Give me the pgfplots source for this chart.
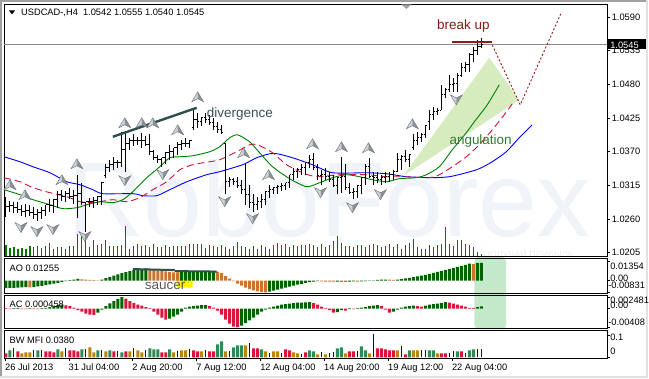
\documentclass[border=0pt]{standalone}
\usepackage{fontspec}
\setmainfont{Liberation Sans}
\usepackage{pgfplots}
\usepackage{pgfplotstable}
\pgfplotsset{compat=1.18}
\pgfplotsset{every axis/.append style={scaled y ticks=false, scaled x ticks=false}}

\definecolor{aogreen}{RGB}{0,100,0}
\definecolor{aoorange}{RGB}{205,115,45}
\definecolor{acred}{RGB}{220,20,60}
\definecolor{mfigreen}{RGB}{46,139,87}
\definecolor{mfibrown}{RGB}{184,134,11}
\definecolor{mfired}{RGB}{220,20,60}
\definecolor{mfiblue}{RGB}{0,0,139}
\definecolor{jaw}{RGB}{0,0,255}
\definecolor{teeth}{RGB}{205,20,60}
\definecolor{lips}{RGB}{0,128,0}
\definecolor{volg}{RGB}{0,118,0}
\definecolor{wm}{RGB}{240,243,247}
\definecolor{wm2}{RGB}{232,236,240}
\definecolor{angfill}{RGB}{214,236,190}
\definecolor{brk}{RGB}{150,25,25}
\definecolor{brktxt}{RGB}{139,26,26}
\definecolor{divc}{RGB}{47,79,79}
\definecolor{divtxt}{RGB}{60,80,90}
\definecolor{angtxt}{RGB}{50,125,50}
\definecolor{saucertxt}{RGB}{90,90,90}
\definecolor{hlgreen}{RGB}{196,232,202}
\definecolor{bidline}{RGB}{135,140,145}
\definecolor{fraclight}{RGB}{205,210,215}
\definecolor{fracdark}{RGB}{140,146,152}
\definecolor{fracd}{RGB}{110,116,122}
\definecolor{bordd}{RGB}{160,160,160}
\definecolor{bordl}{RGB}{225,225,225}

\newcommand{\lbl}{\fontsize{9.3}{10}\selectfont}
\newcommand{\ann}{\fontsize{13.5}{15}\selectfont}

\pgfdeclareplotmark{otick}{\pgfpathmoveto{\pgfqpoint{-1.8pt}{0pt}}\pgfpathlineto{\pgfqpoint{0pt}{0pt}}\pgfusepathqstroke}
\pgfdeclareplotmark{ctick}{\pgfpathmoveto{\pgfqpoint{0pt}{0pt}}\pgfpathlineto{\pgfqpoint{1.8pt}{0pt}}\pgfusepathqstroke}
\pgfdeclareplotmark{fup}{%
  \pgfsetstrokecolor{fracd}\pgfsetlinewidth{0.4pt}%
  \pgfsetfillcolor{fraclight}%
  \pgfpathmoveto{\pgfqpoint{0pt}{5pt}}%
  \pgfpathlineto{\pgfqpoint{0pt}{-2pt}}%
  \pgfpathlineto{\pgfqpoint{-6pt}{-5pt}}%
  \pgfpathclose\pgfusepathqfill
  \pgfsetfillcolor{fracdark}%
  \pgfpathmoveto{\pgfqpoint{0pt}{5pt}}%
  \pgfpathlineto{\pgfqpoint{6pt}{-5pt}}%
  \pgfpathlineto{\pgfqpoint{0pt}{-2pt}}%
  \pgfpathclose\pgfusepathqfill
  \pgfpathmoveto{\pgfqpoint{0pt}{5pt}}%
  \pgfpathlineto{\pgfqpoint{6pt}{-5pt}}%
  \pgfpathlineto{\pgfqpoint{0pt}{-2pt}}%
  \pgfpathlineto{\pgfqpoint{-6pt}{-5pt}}%
  \pgfpathclose\pgfusepathqstroke}
\pgfdeclareplotmark{fdown}{%
  \pgfsetstrokecolor{fracd}\pgfsetlinewidth{0.4pt}%
  \pgfsetfillcolor{fraclight}%
  \pgfpathmoveto{\pgfqpoint{0pt}{-5pt}}%
  \pgfpathlineto{\pgfqpoint{0pt}{2pt}}%
  \pgfpathlineto{\pgfqpoint{-6pt}{5pt}}%
  \pgfpathclose\pgfusepathqfill
  \pgfsetfillcolor{fracdark}%
  \pgfpathmoveto{\pgfqpoint{0pt}{-5pt}}%
  \pgfpathlineto{\pgfqpoint{6pt}{5pt}}%
  \pgfpathlineto{\pgfqpoint{0pt}{2pt}}%
  \pgfpathclose\pgfusepathqfill
  \pgfpathmoveto{\pgfqpoint{0pt}{-5pt}}%
  \pgfpathlineto{\pgfqpoint{6pt}{5pt}}%
  \pgfpathlineto{\pgfqpoint{0pt}{2pt}}%
  \pgfpathlineto{\pgfqpoint{-6pt}{5pt}}%
  \pgfpathclose\pgfusepathqstroke}

\pgfplotstableread{
i o h l c
0 1.0275 1.0296 1.0264 1.0280
1 1.0280 1.0290 1.0272 1.0282
2 1.0282 1.0287 1.0269 1.0278
3 1.0278 1.0287 1.0270 1.0275
4 1.0275 1.0283 1.0265 1.0272
5 1.0272 1.0285 1.0264 1.0274
6 1.0274 1.0282 1.0265 1.0270
7 1.0270 1.0280 1.0260 1.0267
8 1.0267 1.0277 1.0256 1.0270
9 1.0270 1.0280 1.0260 1.0274
10 1.0274 1.0282 1.0265 1.0283
11 1.0283 1.0293 1.0272 1.0282
12 1.0282 1.0292 1.0270 1.0292
13 1.0292 1.0305 1.0278 1.0300
14 1.0300 1.0308 1.0290 1.0296
15 1.0296 1.0305 1.0287 1.0301
16 1.0301 1.0311 1.0292 1.0296
17 1.0296 1.0308 1.0285 1.0298
18 1.0298 1.0332 1.0262 1.0301
19 1.0301 1.0319 1.0283 1.0287
20 1.0287 1.0288 1.0239 1.0288
21 1.0288 1.0295 1.0280 1.0288
22 1.0288 1.0296 1.0278 1.0290
23 1.0290 1.0298 1.0282 1.0297
24 1.0297 1.0321 1.0283 1.0319
25 1.0331 1.0349 1.0327 1.0344
26 1.0344 1.0357 1.0337 1.0349
27 1.0349 1.0362 1.0340 1.0352
28 1.0352 1.0357 1.0344 1.0353
29 1.0353 1.0402 1.0345 1.0373
30 1.0373 1.0401 1.0336 1.0383
31 1.0383 1.0393 1.0373 1.0389
32 1.0389 1.0398 1.0380 1.0388
33 1.0388 1.0394 1.0381 1.0389
34 1.0389 1.0401 1.0376 1.0388
35 1.0388 1.0396 1.0380 1.0381
36 1.0381 1.0398 1.0365 1.0370
37 1.0370 1.0373 1.0357 1.0360
38 1.0360 1.0365 1.0352 1.0357
39 1.0357 1.0360 1.0345 1.0360
40 1.0360 1.0370 1.0349 1.0368
41 1.0368 1.0381 1.0357 1.0370
42 1.0370 1.0376 1.0360 1.0376
43 1.0376 1.0386 1.0365 1.0381
44 1.0381 1.0389 1.0373 1.0384
45 1.0384 1.0393 1.0378 1.0383
46 1.0383 1.0389 1.0376 1.0389
47 1.0409 1.0442 1.0406 1.0422
48 1.0422 1.0433 1.0409 1.0419
49 1.0419 1.0427 1.0412 1.0425
50 1.0425 1.0433 1.0417 1.0422
51 1.0422 1.0430 1.0414 1.0417
52 1.0417 1.0425 1.0406 1.0411
53 1.0411 1.0419 1.0401 1.0406
54 1.0406 1.0414 1.0398 1.0401
55 1.0384 1.0384 1.0300 1.0321
56 1.0321 1.0329 1.0313 1.0324
57 1.0324 1.0327 1.0316 1.0321
58 1.0321 1.0329 1.0311 1.0314
59 1.0314 1.0324 1.0300 1.0308
60 1.0308 1.0349 1.0283 1.0300
61 1.0300 1.0316 1.0278 1.0287
62 1.0287 1.0300 1.0272 1.0283
63 1.0283 1.0296 1.0275 1.0288
64 1.0288 1.0300 1.0278 1.0292
65 1.0292 1.0305 1.0283 1.0305
66 1.0305 1.0316 1.0295 1.0308
67 1.0308 1.0313 1.0300 1.0311
68 1.0311 1.0316 1.0301 1.0313
69 1.0313 1.0319 1.0305 1.0314
70 1.0314 1.0319 1.0308 1.0319
71 1.0319 1.0332 1.0311 1.0332
72 1.0332 1.0344 1.0324 1.0337
73 1.0337 1.0344 1.0327 1.0340
74 1.0340 1.0349 1.0332 1.0344
75 1.0344 1.0352 1.0332 1.0352
76 1.0352 1.0365 1.0344 1.0357
77 1.0357 1.0368 1.0340 1.0344
78 1.0344 1.0349 1.0324 1.0331
79 1.0331 1.0340 1.0316 1.0332
80 1.0332 1.0344 1.0324 1.0329
81 1.0329 1.0337 1.0321 1.0324
82 1.0324 1.0332 1.0313 1.0314
83 1.0314 1.0327 1.0300 1.0327
84 1.0327 1.0362 1.0303 1.0330
85 1.0330 1.0349 1.0308 1.0311
86 1.0311 1.0319 1.0300 1.0303
87 1.0303 1.0311 1.0292 1.0305
88 1.0305 1.0314 1.0295 1.0314
89 1.0314 1.0327 1.0300 1.0327
90 1.0327 1.0349 1.0316 1.0345
91 1.0345 1.0360 1.0327 1.0329
92 1.0329 1.0337 1.0316 1.0327
93 1.0327 1.0336 1.0318 1.0324
94 1.0324 1.0332 1.0316 1.0327
95 1.0327 1.0336 1.0319 1.0329
96 1.0329 1.0337 1.0321 1.0332
97 1.0332 1.0340 1.0324 1.0337
98 1.0337 1.0368 1.0337 1.0357
99 1.0357 1.0365 1.0340 1.0362
100 1.0362 1.0373 1.0353 1.0357
101 1.0357 1.0365 1.0345 1.0365
102 1.0376 1.0398 1.0373 1.0389
103 1.0389 1.0402 1.0381 1.0393
104 1.0393 1.0401 1.0386 1.0398
105 1.0398 1.0412 1.0393 1.0412
106 1.0419 1.0438 1.0406 1.0430
107 1.0430 1.0443 1.0422 1.0435
108 1.0435 1.0442 1.0430 1.0438
109 1.0438 1.0479 1.0438 1.0463
110 1.0463 1.0474 1.0458 1.0471
111 1.0471 1.0495 1.0468 1.0479
112 1.0479 1.0490 1.0468 1.0482
113 1.0482 1.0499 1.0468 1.0495
114 1.0495 1.0515 1.0492 1.0508
115 1.0508 1.0517 1.0500 1.0512
116 1.0512 1.0531 1.0500 1.0528
117 1.0528 1.0541 1.0517 1.0536
118 1.0536 1.0552 1.0528 1.0541
119 1.0542 1.0555 1.0540 1.0545
}\ohlc

\begin{document}
\begin{tikzpicture}[x=1pt,y=-1pt]
% window background and border
\fill[white] (0,0) rectangle (649,379);
\fill[bordd] (0,0) rectangle (649,2.5);
\fill[bordd] (0,0) rectangle (2.5,379);
\fill[bordl] (0,376.5) rectangle (649,379);
\fill[bordl] (646.5,0) rectangle (649,379);
% watermark
\node[anchor=base west, inner sep=0pt, text=wm, font=\fontsize{106}{106}\selectfont] at (67,237) {RoboForex};
\node[anchor=base west, inner sep=0pt, text=wm2, font=\fontsize{9}{10}\selectfont] at (484,257.5) {ПОЛУЧАЙ ПРИБЫЛЬ};
% highlight behind AO / AC
\fill[hlgreen, rounded corners=5pt] (475,257) rectangle (507,330);

% ---------- volumes (main window) ----------
\begin{axis}[at={(4pt,-257pt)}, anchor=south west, scale only axis,
  width=604pt, height=253pt, xmin=-0.5, xmax=150.5, ymin=0, ymax=253, hide axis]
\addplot[ycomb, volg, line width=1.1pt, mark=none] coordinates {
(0,12)(1,9)(2,10)(3,8)(4,9)(5,8)(6,11)(7,10)(8,11)(9,9)(10,11)(11,14)(12,8)(13,10)(14,10)
(15,8)(16,11)(17,11)(18,23)(19,22)(20,17)(21,10)(22,17)(23,12)(24,13)(25,17)(26,11)(27,11)
(28,11)(29,12)(30,31)(31,8)(32,11)(33,13)(34,11)(35,12)(36,10)(37,13)(38,10)(39,10)(40,12)
(41,10)(42,11)(43,11)(44,11)(45,11)(46,13)(47,13)(48,13)(49,13)(50,9)(51,12)(52,11)(53,10)
(54,12)(55,10)(56,8)(57,11)(58,15)(59,11)(60,10)(61,8)(62,11)(63,8)(64,12)(65,10)(66,8)
(67,12)(68,14)(69,12)(70,13)(71,10)(72,12)(73,11)(74,12)(75,12)(76,13)(77,12)(78,10)(79,13)
(80,10)(81,12)(82,16)(83,21)(84,14)(85,11)(86,11)(87,10)(88,12)(89,12)(90,10)(91,12)(92,13)
(93,12)(94,10)(95,11)(96,13)(97,10)(98,13)(99,8)(100,12)(101,14)(102,18)(103,10)(104,8)
(105,8)(106,12)(107,10)(108,12)(109,13)(110,30)(111,13)(112,11)(113,17)(114,17)(115,13)
(116,12)(117,10)(118,5)(119,3)};
\end{axis}

% ---------- main price window ----------
\begin{axis}[at={(4pt,-257pt)}, anchor=south west, scale only axis,
  width=604pt, height=253pt, xmin=-0.5, xmax=150.5, ymin=1.01985, ymax=1.06112,
  axis line style={black, line width=0.8pt},
  xtick=\empty,
  ytick={1.0205,1.0260,1.0315,1.0370,1.0425,1.0480,1.0535,1.0590},
  yticklabels={1.0205,1.0260,1.0315,1.0370,1.0425,1.0480,1.0535,1.0590},
  ytick pos=right, yticklabel pos=right, tick align=outside,
  major tick length=3pt, tick style={black, line width=0.6pt},
  yticklabel style={font=\lbl, inner xsep=1.5pt}]
% angulation area
\addplot[fill=angfill, draw=none] coordinates {(99.5,1.03306) (121,1.05231) (128.5,1.04546) (99.5,1.03306)};
% alligator
\addplot[jaw, line width=0.9pt, smooth, tension=0.4, mark=none] coordinates {
(-0.5,1.03616) (3.5,1.03535) (6.75,1.03453) (11,1.03355) (15.25,1.03208) (18.5,1.03160)
(21.75,1.03078) (24.25,1.03013) (31.75,1.03013) (34.25,1.02980) (37.75,1.02980) (41,1.03078)
(45.25,1.03208) (50.25,1.03323) (53.5,1.03372) (59.25,1.03486) (62.75,1.03600) (66,1.03665)
(68,1.03665) (71.75,1.03600) (76.75,1.03486) (81.75,1.03355) (90.25,1.03355) (95.25,1.03339)
(100.25,1.03290) (106.75,1.03274) (111,1.03290) (115.25,1.03355) (118.5,1.03421)
(121.75,1.03535) (125.25,1.03698) (128.5,1.03926) (131.75,1.04138)};
\addplot[teeth, line width=0.9pt, smooth, tension=0.4, dash pattern=on 7pt off 4pt, mark=none] coordinates {
(-0.5,1.03274) (3.5,1.03208) (6.75,1.03111) (11,1.03029) (15.25,1.02964) (18.5,1.02882)
(21,1.02866) (23.5,1.02882) (26.75,1.02915) (30.25,1.02882) (33.5,1.02948) (36.75,1.03078)
(40.25,1.03208) (43.5,1.03404) (46.75,1.03486) (51,1.03535) (53.5,1.03567) (57.75,1.03698)
(61,1.03812) (63,1.03812) (66.75,1.03682) (70.25,1.03486) (74.25,1.03355) (77.75,1.03290)
(83.5,1.03323) (90.25,1.03323) (95.25,1.03290) (100.25,1.03290) (106,1.03274) (108.5,1.03323)
(111.75,1.03453) (115.25,1.03616) (118.5,1.03812) (121.75,1.04057) (124.75,1.04301) (126.75,1.04481)};
\addplot[lips, line width=0.9pt, smooth, tension=0.4, mark=none] coordinates {
(-0.5,1.03078) (3.5,1.02997) (6.75,1.02915) (11,1.02833) (14.25,1.02768) (17.75,1.02784)
(20.25,1.02833) (23.5,1.02882) (26.75,1.02866) (29.25,1.02915) (31.75,1.03046) (35.25,1.03274)
(38.5,1.03453) (41,1.03600) (43.5,1.03616) (46.75,1.03633) (51,1.03698) (53.5,1.03780)
(56,1.03926) (58,1.03975) (61,1.03861) (63.5,1.03682) (66.75,1.03453) (71,1.03258)
(75.25,1.03127) (78.5,1.03192) (81.75,1.03274) (85.25,1.03323) (88.5,1.03290) (91.75,1.03241)
(95.25,1.03208) (98.5,1.03258) (102.75,1.03274) (105.25,1.03323) (108.5,1.03453)
(111.75,1.03731) (115.25,1.04008) (117.25,1.04187) (120.5,1.04465) (123.5,1.04791)};
% bid line
\addplot[bidline, line width=0.8pt, mark=none] coordinates {(-0.5,1.0545) (150.5,1.0545)};
% OHLC bars: high-low range
\addplot[draw=none, mark=none,
  error bars/.cd, y dir=plus, y explicit, error mark=none,
  error bar style={draw=black, line width=1pt}]
  table[x=i, y=l, y error expr=\thisrow{h}-\thisrow{l}] {\ohlc};
\addplot[black, only marks, mark=otick, mark options={line width=1pt}] table[x=i, y=o] {\ohlc};
\addplot[black, only marks, mark=ctick, mark options={line width=1pt}] table[x=i, y=c] {\ohlc};
% fractals
\addplot[only marks, mark=fup] coordinates {
(1,1.03160) (4.75,1.02997) (14,1.03241) (17.75,1.03502) (29.75,1.04171) (34,1.04171)
(36.75,1.04171) (43,1.04057) (48,1.04595) (59.5,1.03682) (65.75,1.03323) (76.75,1.03829)
(84,1.03780) (90.75,1.03763) (101.75,1.04155)};
\addplot[only marks, mark=fdown] coordinates {
(3.75,1.02459) (7.75,1.02393) (11.75,1.02426) (19.75,1.02312) (29.75,1.03225) (39.25,1.03323)
(54.75,1.02882) (61.75,1.02605) (78.75,1.03029) (86.75,1.02784) (93.75,1.02997) (112.75,1.04546)};
% divergence line
\addplot[divc, line width=2.4pt, mark=none] coordinates {(26.75,1.03943) (47.75,1.04416)};
% break up line
\addplot[brk, line width=2.4pt, mark=none] coordinates {(111.75,1.05492) (121.75,1.05492)};
% forecast path
\addplot[brk, line width=0.9pt, dash pattern=on 2pt off 2pt, mark=none] coordinates {(121.75,1.05443) (128.75,1.04465) (139,1.05965)};
\end{axis}

% ---------- AO ----------
\begin{axis}[at={(4pt,-294pt)}, anchor=south west, scale only axis,
  width=604pt, height=35pt, xmin=-0.5, xmax=150.5, ymin=-0.009165, ymax=0.01551,
  axis line style={black, line width=0.8pt}, xtick=\empty,
  ytick={-0.00831,0,0.01354}, yticklabels={}, ytick pos=right, tick align=outside,
  major tick length=3pt, tick style={black, line width=0.6pt}]
\addplot[fill=yellow, draw=none] coordinates {(42.75,0.00635) (46.75,0.00635) (46.75,-0.00494) (42.75,-0.00494) (42.75,0.00635)};
\addplot[ybar, bar width=3pt, bar shift=0pt, fill=aogreen, draw=none] coordinates {
(0,-0.00529) (1,-0.00515) (2,-0.00508) (3,-0.00494) (4,-0.00479) (5,-0.00465) (7,-0.00458)
(8,-0.00409) (9,-0.00367) (10,-0.00317) (11,-0.00268) (12,-0.00212) (13,-0.00155) (14,-0.00099)
(15,-0.00042) (16,0.00028) (17,0.00071) (18,0.00113) (24,0.00071) (25,0.00176) (26,0.00268)
(27,0.00353) (28,0.00437) (29,0.00529) (30,0.00599) (31,0.00670) (32,0.00740) (33,0.00790)
(34,0.00832) (35,0.00867) (44,0.00592) (45,0.00606) (46,0.00620) (47,0.00649) (48,0.00663)
(49,0.00670) (50,0.00677) (51,0.00680) (52,0.00684) (66,-0.00776) (67,-0.00705) (68,-0.00635)
(69,-0.00564) (70,-0.00494) (71,-0.00423) (72,-0.00353) (73,-0.00282) (74,-0.00226) (75,-0.00169)
(76,-0.00113) (77,-0.00071) (78,-0.00042) (83,-0.00071) (86,-0.00071) (87,-0.00056) (89,-0.00056)
(90,-0.00035) (91,-0.00014) (92,0.00021) (93,0.00049) (94,0.00063) (95,0.00071) (98,0.00071)
(99,0.00106) (100,0.00155) (101,0.00197) (102,0.00247) (103,0.00303) (104,0.00353) (105,0.00409)
(106,0.00479) (107,0.00550) (108,0.00620) (109,0.00691) (110,0.00761) (111,0.00832) (112,0.00902)
(113,0.00973) (114,0.01043) (115,0.01100) (116,0.01200) (118,0.01230) (119,0.01255)};
\addplot[ybar, bar width=3pt, bar shift=0pt, fill=aoorange, draw=none] coordinates {
(6,-0.00479) (19,0.00085) (20,0.00063) (21,0.00042) (22,0.00028) (23,0.00021) (36,0.00832)
(37,0.00776) (38,0.00726) (39,0.00691) (40,0.00656) (41,0.00620) (42,0.00585) (43,0.00578)
(53,0.00635) (54,0.00529) (55,0.00317) (56,0.00141) (57,-0.00035) (58,-0.00212) (59,-0.00353)
(60,-0.00494) (61,-0.00599) (62,-0.00691) (63,-0.00761) (64,-0.00797) (65,-0.00831) (79,-0.00056)
(80,-0.00071) (81,-0.00075) (82,-0.00078) (84,-0.00085) (85,-0.00092) (88,-0.00071) (96,0.00063)
(97,0.00049) (117,0.01170)};
\addplot[divc, line width=2pt, mark=none] coordinates {(31.75,0.00811) (42.25,0.00740)};
\addplot[divc, line width=2pt, mark=none] coordinates {(42.25,0.00670) (52.75,0.00635)};
\end{axis}

% ---------- AC ----------
\begin{axis}[at={(4pt,-329pt)}, anchor=south west, scale only axis,
  width=604pt, height=33pt, xmin=-0.5, xmax=150.5, ymin=-0.004374, ymax=0.002843,
  axis line style={black, line width=0.8pt}, xtick=\empty,
  ytick={-0.00408,0,0.002481}, yticklabels={}, ytick pos=right, tick align=outside,
  major tick length=3pt, tick style={black, line width=0.6pt}]
\addplot[ybar, bar width=3pt, bar shift=0pt, fill=aogreen, draw=none] coordinates {
(2,0.00011) (3,0.00013) (6,0.00007) (9,0.00011) (10,0.00017) (11,0.00033) (12,0.00055)
(13,0.00077) (14,0.00087) (23,-0.00087) (24,-0.00022) (25,0.00055) (26,0.00115) (27,0.00160)
(28,0.00210) (29,0.00248) (41,-0.00219) (42,-0.00175) (43,-0.00131) (44,-0.00066) (45,0.00022)
(46,0.00044) (47,0.00055) (48,0.00066) (49,0.00072) (50,0.00077) (59,-0.00372) (60,-0.00317)
(61,-0.00262) (62,-0.00197) (63,-0.00131) (64,-0.00066) (65,-0.00022) (66,0.00022) (67,0.00044)
(68,0.00066) (69,0.00087) (70,0.00098) (71,0.00109) (72,0.00120) (73,0.00127) (74,0.00131)
(75,0.00136) (76,0.00142) (83,-0.00077) (84,-0.00033) (86,0.00011) (88,0.00011) (89,0.00022)
(90,0.00033) (91,0.00055) (92,0.00066) (93,0.00077) (97,-0.00066) (98,-0.00022) (99,0.00022)
(100,0.00044) (101,0.00055) (102,0.00066) (105,0.00066) (106,0.00087) (107,0.00098)
(108,0.00109) (109,0.00120) (110,0.00142) (118,0.00030) (119,0.00046)};
\addplot[ybar, bar width=3pt, bar shift=0pt, fill=acred, draw=none] coordinates {
(0,0.00011) (1,-0.00011) (4,-0.00011) (5,-0.00013) (7,-0.00011) (8,-0.00013) (15,0.00070)
(16,0.00055) (17,0.00022) (18,-0.00033) (19,-0.00066) (20,-0.00109) (21,-0.00131) (22,-0.00138)
(30,0.00219) (31,0.00164) (32,0.00120) (33,0.00087) (34,0.00066) (35,0.00033) (36,0.00011)
(37,-0.00066) (38,-0.00131) (39,-0.00197) (40,-0.00241) (51,0.00055) (52,0.00022) (53,-0.00044)
(54,-0.00131) (55,-0.00241) (56,-0.00328) (57,-0.00394) (58,-0.00408) (77,0.00120) (78,0.00087)
(79,0.00044) (80,0.00011) (81,-0.00033) (82,-0.00087) (85,-0.00044) (87,-0.00011) (94,0.00055)
(95,-0.00022) (96,-0.00087) (103,0.00055) (104,0.00044) (111,0.00131) (112,0.00109)
(113,0.00087) (114,0.00066) (115,0.00044) (116,0.00017) (117,0.00011)};
\end{axis}

% ---------- BW MFI ----------
\begin{axis}[at={(4pt,-359pt)}, anchor=south west, scale only axis,
  width=604pt, height=28pt, xmin=-0.5, xmax=150.5, ymin=-0.0045, ymax=0.1215,
  axis line style={black, line width=0.8pt},
  xtick={-0.25,15.75,31.75,47.75,63.75,79.75,95.75,111.75}, xticklabels={},
  xtick pos=bottom,
  ytick={0,0.1}, yticklabels={}, ytick pos=right, tick align=outside,
  major tick length=3pt, tick style={black, line width=0.6pt}]
\addplot[ybar, bar width=3pt, bar shift=0pt, fill=mfigreen, draw=none] coordinates {
(1,0.032) (8,0.032) (13,0.036) (19,0.036) (23,0.032) (26,0.032) (29,0.023) (36,0.041) (37,0.036)
(38,0.036) (41,0.036) (53,0.059) (54,0.072) (57,0.045) (58,0.054) (59,0.054) (64,0.036) (76,0.032)
(77,0.027) (83,0.041) (84,0.045) (89,0.050) (90,0.032) (101,0.032) (106,0.032) (107,0.032)
(113,0.027) (116,0.032) (117,0.036)};
\addplot[ybar, bar width=3pt, bar shift=0pt, fill=mfibrown, draw=none] coordinates {
(4,0.018) (5,0.023) (6,0.023) (14,0.027) (21,0.045) (22,0.023) (25,0.027) (31,0.027) (33,0.032)
(34,0.023) (42,0.023) (44,0.032) (45,0.032) (49,0.027) (55,0.027) (60,0.054) (65,0.027) (67,0.027)
(68,0.027) (72,0.023) (73,0.018) (78,0.014) (80,0.014) (85,0.018) (91,0.018) (98,0.032) (102,0.032)
(103,0.032) (108,0.018)};
\addplot[ybar, bar width=3pt, bar shift=0pt, fill=mfired, draw=none] coordinates {
(0,0.018) (3,0.027) (10,0.027) (11,0.027) (12,0.023) (16,0.032) (17,0.032) (18,0.027) (27,0.027)
(30,0.027) (39,0.023) (40,0.023) (47,0.032) (48,0.027) (51,0.027) (52,0.027) (62,0.041) (63,0.041)
(70,0.036) (71,0.032) (75,0.023) (86,0.027) (87,0.027) (93,0.041) (94,0.041) (95,0.036) (96,0.032)
(97,0.032) (100,0.014) (109,0.018) (110,0.018) (114,0.027)};
\addplot[ycomb, mfiblue, line width=1pt, mark=none] coordinates {
(2,0.041) (7,0.032) (9,0.032) (15,0.041) (20,0.036) (24,0.032) (28,0.027) (32,0.041) (35,0.032)
(43,0.027) (46,0.036) (50,0.032) (56,0.027) (61,0.063) (66,0.018) (69,0.018) (74,0.014) (79,0.023)
(81,0.018) (82,0.023) (88,0.027) (92,0.104) (99,0.050) (104,0.032) (105,0.032) (111,0.018)
(112,0.027) (115,0.018) (118,0.036) (119,0.038)};
\end{axis}

% ---------- texts ----------
\fill[black] (9,10.5) -- (15,10.5) -- (12,14.5) -- cycle;
\node[anchor=base west, inner sep=0pt, font=\lbl] at (21,16) {USDCAD-,H4\ \ 1.0542 1.0555 1.0540 1.0545};
\fill[bordd] (402,4.5) -- (412,4.5) -- (407,9) -- cycle;
% current price box
\fill[black] (608,39.5) rectangle (647,49.5);
\node[anchor=base west, inner sep=0pt, font=\lbl, text=white] at (611,48.2) {1.0545};
% indicator names
\node[anchor=base west, inner sep=0pt, font=\lbl] at (9.5,271.7) {AO 0.01255};
\node[anchor=base west, inner sep=0pt, font=\lbl] at (9.5,308.3) {AC 0.000458};
\node[anchor=base west, inner sep=0pt, font=\lbl] at (9.5,344) {BW MFI 0.0380};
% indicator scales
\node[anchor=base west, inner sep=0pt, font=\lbl] at (611,269.5) {0.01354};
\node[anchor=base west, inner sep=0pt, font=\lbl] at (611,281.5) {0.00};
\node[anchor=base west, inner sep=0pt, font=\lbl] at (609,289) {-0.00831};
\node[anchor=base west, inner sep=0pt, font=\lbl] at (611,303.7) {0.002481};
\node[anchor=base west, inner sep=0pt, font=\lbl] at (611,309) {0.00};
\node[anchor=base west, inner sep=0pt, font=\lbl] at (609,325.7) {-0.00408};
\node[anchor=base west, inner sep=0pt, font=\lbl] at (611,341) {0.1};
\node[anchor=base west, inner sep=0pt, font=\lbl] at (611,355.3) {0};
% dates
\node[anchor=base west, inner sep=0pt, font=\lbl] at (5,371.5) {26 Jul 2013};
\node[anchor=base west, inner sep=0pt, font=\lbl] at (68.5,371.5) {31 Jul 04:00};
\node[anchor=base west, inner sep=0pt, font=\lbl] at (132.5,371.5) {2 Aug 20:00};
\node[anchor=base west, inner sep=0pt, font=\lbl] at (196.5,371.5) {7 Aug 12:00};
\node[anchor=base west, inner sep=0pt, font=\lbl] at (260.5,371.5) {12 Aug 04:00};
\node[anchor=base west, inner sep=0pt, font=\lbl] at (324.5,371.5) {14 Aug 20:00};
\node[anchor=base west, inner sep=0pt, font=\lbl] at (388.5,371.5) {19 Aug 12:00};
\node[anchor=base west, inner sep=0pt, font=\lbl] at (452.5,371.5) {22 Aug 04:00};
% annotations
\node[anchor=center, inner sep=0pt, font=\ann, text=brktxt] at (464,26.5) {break up};
\node[anchor=west, inner sep=0pt, font=\ann, text=divtxt] at (207,114.5) {divergence};
\node[anchor=west, inner sep=0pt, font=\ann, text=angtxt] at (450,141.5) {angulation};
\node[anchor=west, inner sep=0pt, font=\ann, text=saucertxt] at (145,286) {saucer};
\end{tikzpicture}
\end{document}
